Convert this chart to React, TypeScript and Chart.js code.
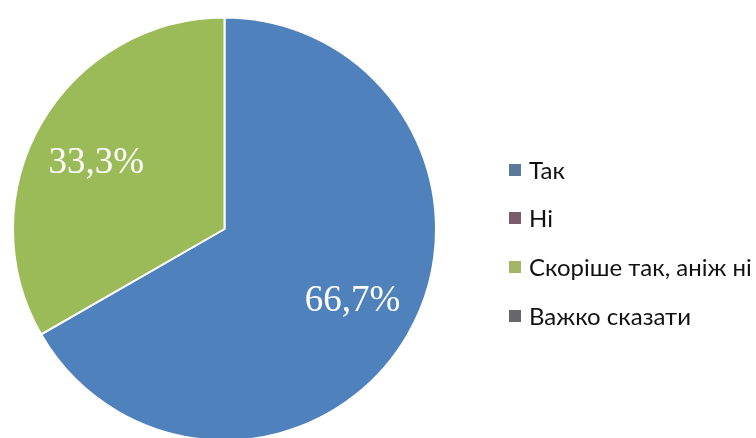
import React, { useEffect, useRef } from "react";
import { Chart, registerables } from "chart.js";

Chart.register(...registerables);

const categories = ["Так", "Ні", "Скоріше так, аніж ні", "Важко сказати"];
const values = [66.7, 0, 33.3, 0];
const sliceColors = ["#4f81bd", "#8064a2", "#9bbb59", "#6b6b70"];
const legendColors = ["#5b7a98", "#7a5c6c", "#a5b566", "#66666c"];

const legendPlugin = {
  id: "customLegend",
  afterDraw(chart: any) {
    const ctx = chart.ctx;
    ctx.save();
    const x0 = 509;
    const ys = [170, 218, 267, 316];
    ctx.font = "24px Lato, 'Open Sans', sans-serif";
    ctx.textBaseline = "middle";
    ctx.textAlign = "left";
    categories.forEach((c, i) => {
      ctx.fillStyle = legendColors[i];
      ctx.fillRect(x0, ys[i] - 6, 12, 12);
      ctx.fillStyle = "#111111";
      ctx.fillText(c, x0 + 20, ys[i] + 1);
    });
    ctx.restore();
  },
};

const labelPlugin = {
  id: "sliceLabels",
  afterDatasetsDraw(chart: any) {
    const ctx = chart.ctx;
    const meta = chart.getDatasetMeta(0);
    ctx.save();
    ctx.font = "37px 'Liberation Serif', 'Times New Roman', serif";
    ctx.fillStyle = "#ffffff";
    ctx.textAlign = "center";
    ctx.textBaseline = "middle";
    meta.data.forEach((arc: any, i: number) => {
      const v = values[i];
      if (!v) return;
      const p = arc.getProps(["x", "y", "startAngle", "endAngle", "outerRadius"], true);
      const mid = (p.startAngle + p.endAngle) / 2;
      const r = p.outerRadius * 0.7;
      const tx = p.x + Math.cos(mid) * r;
      const ty = p.y + Math.sin(mid) * r * 0.93 + 3;
      ctx.fillText(v.toFixed(1).replace(".", ",") + "%", tx, ty);
    });
    ctx.restore();
  },
};

export default function App() {
  const ref = useRef<HTMLCanvasElement>(null);
  useEffect(() => {
    document.body.style.margin = "0";
    const chart = new Chart(ref.current!, {
      type: "pie",
      data: {
        labels: categories,
        datasets: [
          {
            data: values,
            backgroundColor: sliceColors,
            borderColor: "#ffffff",
            borderWidth: 2,
          },
        ],
      },
      options: {
        responsive: false,
        animation: false,
        layout: { padding: { left: 12, top: 16.5, right: 319, bottom: 8.5 } },
        plugins: {
          legend: { display: false },
          tooltip: { enabled: false },
        },
      },
      plugins: [labelPlugin, legendPlugin],
    });
    return () => chart.destroy();
  }, []);
  return (
    <div style={{ width: 756, height: 438, overflow: "hidden", background: "#fff" }}>
      <canvas ref={ref} width={756} height={450} style={{ display: "block" }} />
    </div>
  );
}
